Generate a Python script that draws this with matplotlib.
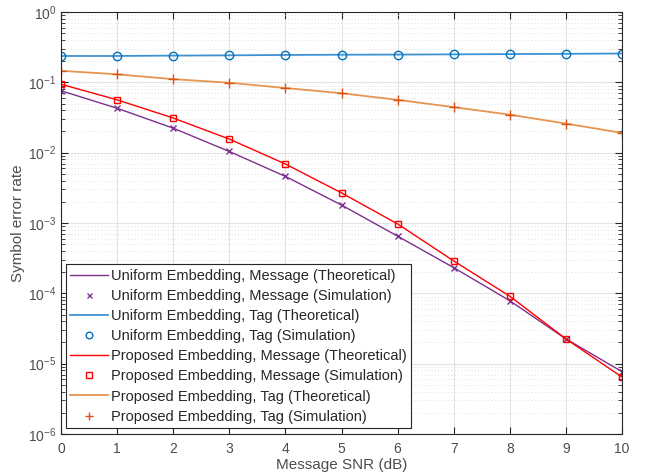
import numpy as np
import matplotlib
matplotlib.use("Agg")
import matplotlib.pyplot as plt
from matplotlib.ticker import LogLocator, NullFormatter

plt.rcParams['font.family'] = ['Liberation Sans', 'DejaVu Sans']

snr_db = [0, 1, 2, 3, 4, 5, 6, 7, 8, 9, 10]

# uniform embedding
uni_msg_theory = [0.076, 0.0428, 0.0223, 0.0104, 0.0046, 0.0018, 0.00065, 0.000232, 7.85e-5, 2.25e-5, 7.7e-6]
uni_msg_sim = [0.076, 0.0428, 0.0223, 0.0104, 0.0046, 0.0018, 0.00065, 0.000232, 7.85e-5, 2.25e-5, 7.7e-6]
uni_tag_theory = [0.237, 0.237, 0.240, 0.242, 0.245, 0.247, 0.248, 0.250, 0.252, 0.254, 0.257]
uni_tag_sim = [0.237, 0.237, 0.240, 0.242, 0.245, 0.247, 0.248, 0.250, 0.252, 0.254, 0.257]

# proposed embedding
prop_msg_theory = [0.094, 0.0564, 0.0311, 0.0156, 0.0069, 0.00268, 0.00097, 0.000289, 9.1e-5, 2.25e-5, 6.45e-6]
prop_msg_sim = [0.094, 0.0564, 0.0311, 0.0156, 0.0069, 0.00268, 0.00097, 0.000289, 9.1e-5, 2.25e-5, 6.45e-6]
prop_tag_theory = [0.146, 0.130, 0.111, 0.0987, 0.083, 0.070, 0.0564, 0.0444, 0.0347, 0.0259, 0.0191]
prop_tag_sim = [0.146, 0.130, 0.111, 0.0987, 0.083, 0.070, 0.0564, 0.0444, 0.0347, 0.0259, 0.0191]

purple = '#7E2F8E'
blue = '#0072BD'
red = '#FF0000'
orange = '#D95319'
axcol = '#262626'

fig = plt.figure(figsize=(6.5, 4.75), dpi=100)
ax = fig.add_axes([61 / 650, 1 - 434 / 475, 561 / 650, 422 / 475])

ax.semilogy(snr_db, uni_msg_theory, '-', color=purple, lw=1.0,
            label='Uniform Embedding, Message (Theoretical)')
ax.semilogy(snr_db, uni_msg_sim, 'x', color=purple, ms=4.5, mew=1.0,
            label='Uniform Embedding, Message (Simulation)')
ax.semilogy(snr_db, uni_tag_theory, '-', color='#3F92D2', lw=1.3,
            label='Uniform Embedding, Tag (Theoretical)')
ax.semilogy(snr_db, uni_tag_sim, 'o', color=blue, mfc='none', ms=6, mew=1.0,
            label='Uniform Embedding, Tag (Simulation)')
ax.semilogy(snr_db, prop_msg_theory, '-', color=red, lw=1.0,
            label='Proposed Embedding, Message (Theoretical)')
ax.semilogy(snr_db, prop_msg_sim, 's', color=red, mfc='none', ms=5, mew=1.0,
            label='Proposed Embedding, Message (Simulation)')
ax.semilogy(snr_db, prop_tag_theory, '-', color='#E59550', lw=1.3,
            label='Proposed Embedding, Tag (Theoretical)')
ax.semilogy(snr_db, prop_tag_sim, '+', color=orange, ms=6.5, mew=1.0,
            label='Proposed Embedding, Tag (Simulation)')

ax.set_xlim(0, 10)
ax.set_ylim(1e-6, 1e0)
ax.set_xticks(range(0, 11))
ax.yaxis.set_major_locator(LogLocator(base=10, numticks=10))
ax.yaxis.set_minor_locator(LogLocator(base=10, subs=np.arange(2, 10), numticks=20))
ax.yaxis.set_minor_formatter(NullFormatter())

ax.grid(True, which='major', color='#e3e3e3', lw=0.8, ls='-')
ax.grid(True, which='minor', axis='y', color='#d6d6d6', lw=0.6, ls=(0, (1, 3)))
ax.set_axisbelow(True)

ax.tick_params(which='both', direction='in', top=True, right=True,
               colors=axcol, labelcolor='#4d4d4d', labelsize=10)
ax.tick_params(which='major', length=5, width=0.8)
ax.tick_params(which='minor', length=3, width=0.6)
ax.tick_params(axis='x', which='major', pad=6)
for s in ax.spines.values():
    s.set_color(axcol)
    s.set_linewidth(0.8)

ax.set_xlabel('Message SNR (dB)', fontsize=11, color='#4d4d4d', labelpad=1)
ax.set_ylabel('Symbol error rate', fontsize=11, color='#4d4d4d', labelpad=2)

leg = ax.legend(loc='lower left', bbox_to_anchor=(5 / 561, 6 / 422), borderaxespad=0,
                fontsize=10.5, fancybox=False, framealpha=1, edgecolor=axcol,
                handlelength=2.6, handletextpad=0.2, labelspacing=0.42,
                borderpad=0.3, markerscale=0.8)
leg.get_frame().set_linewidth(0.8)
for t in leg.get_texts():
    t.set_color('#262626')

fig.savefig('out.png', dpi=100)
